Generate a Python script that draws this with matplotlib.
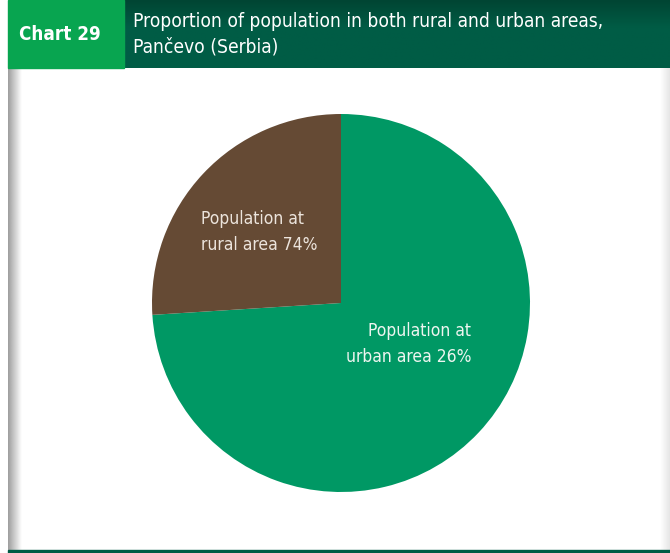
import matplotlib.pyplot as plt
import numpy as np
from matplotlib.patches import Rectangle

# shares of the circle, clockwise from the top
shares = [74, 26]
slice_colors = ["#009864", "#654a34"]
slice_labels = ["Population at\nurban area 26%", "Population at\nrural area 74%"]
chart_no = "Chart 29"
title = "Proportion of population in both rural and urban areas,\nPančevo (Serbia)"

W, H = 670, 553
fig = plt.figure(figsize=(W / 100, H / 100), dpi=100)
fig.patch.set_facecolor("white")

font = dict(family="DejaVu Sans", fontstretch="condensed")

# background layer in pixel coordinates (y down)
bg = fig.add_axes([0, 0, 1, 1])
bg.set_xlim(0, W)
bg.set_ylim(H, 0)
bg.axis("off")

# header: dark band with a slight vertical gradient
grad = np.linspace(0, 1, 50).reshape(-1, 1)
dark = np.array([0x00, 0x45, 0x33]) / 255
mid = np.array([0x00, 0x5c, 0x45]) / 255
band = dark + (mid - dark) * np.clip(grad * 2.5, 0, 1)[..., None]
band = np.repeat(band, 2, axis=1)
bg.imshow(band, extent=(124, W, 68, 0), aspect="auto", zorder=1)
bg.add_patch(Rectangle((8, 0), 116, 68, color="#08a550", zorder=2))

# left shadow of the panel
shade = np.linspace(0.62, 1.0, 40).reshape(1, -1)
shade = np.repeat(shade, 2, axis=0)
bg.imshow(shade, extent=(8, 22, H - 2, 68), cmap="gray", vmin=0, vmax=1,
          aspect="auto", zorder=1)
rshade = np.linspace(1.0, 0.9, 20).reshape(1, -1)
bg.imshow(np.repeat(rshade, 2, axis=0), extent=(660, W, H - 2, 68), cmap="gray",
          vmin=0, vmax=1, aspect="auto", zorder=1)

# bottom rule
bg.add_patch(Rectangle((8, H - 3), W - 8, 3, color="#005a44", zorder=2))

bg.text(19, 35, chart_no, color="white", fontsize=13.5, fontweight="bold",
        va="center", ha="left", zorder=3, **font)
bg.text(133, 34, title, color="white", fontsize=13.8,
        va="center", ha="left", linespacing=1.45, zorder=3, **font)

# pie, centre (341, 303) px, radius 189 px
cx, cy, r = 341, 303, 189
ax = fig.add_axes([(cx - r) / W, 1 - (cy + r) / H, 2 * r / W, 2 * r / H])
ax.pie(shares, colors=slice_colors, startangle=90, counterclock=False,
       wedgeprops={"linewidth": 0})
ax.set_xlim(-1, 1)
ax.set_ylim(-1, 1)
ax.set_aspect("equal")
ax.axis("off")

ax.text((471 - cx) / r, (cy - 344) / r, slice_labels[0], color="#eef5f0",
        fontsize=12.5, ha="right", va="center", linespacing=1.6, **font)
ax.text((201 - cx) / r, (cy - 232) / r, slice_labels[1], color="#ece4dc",
        fontsize=12.5, ha="left", va="center", linespacing=1.6, **font)

fig.savefig("out.png", dpi=100, facecolor=fig.get_facecolor())
